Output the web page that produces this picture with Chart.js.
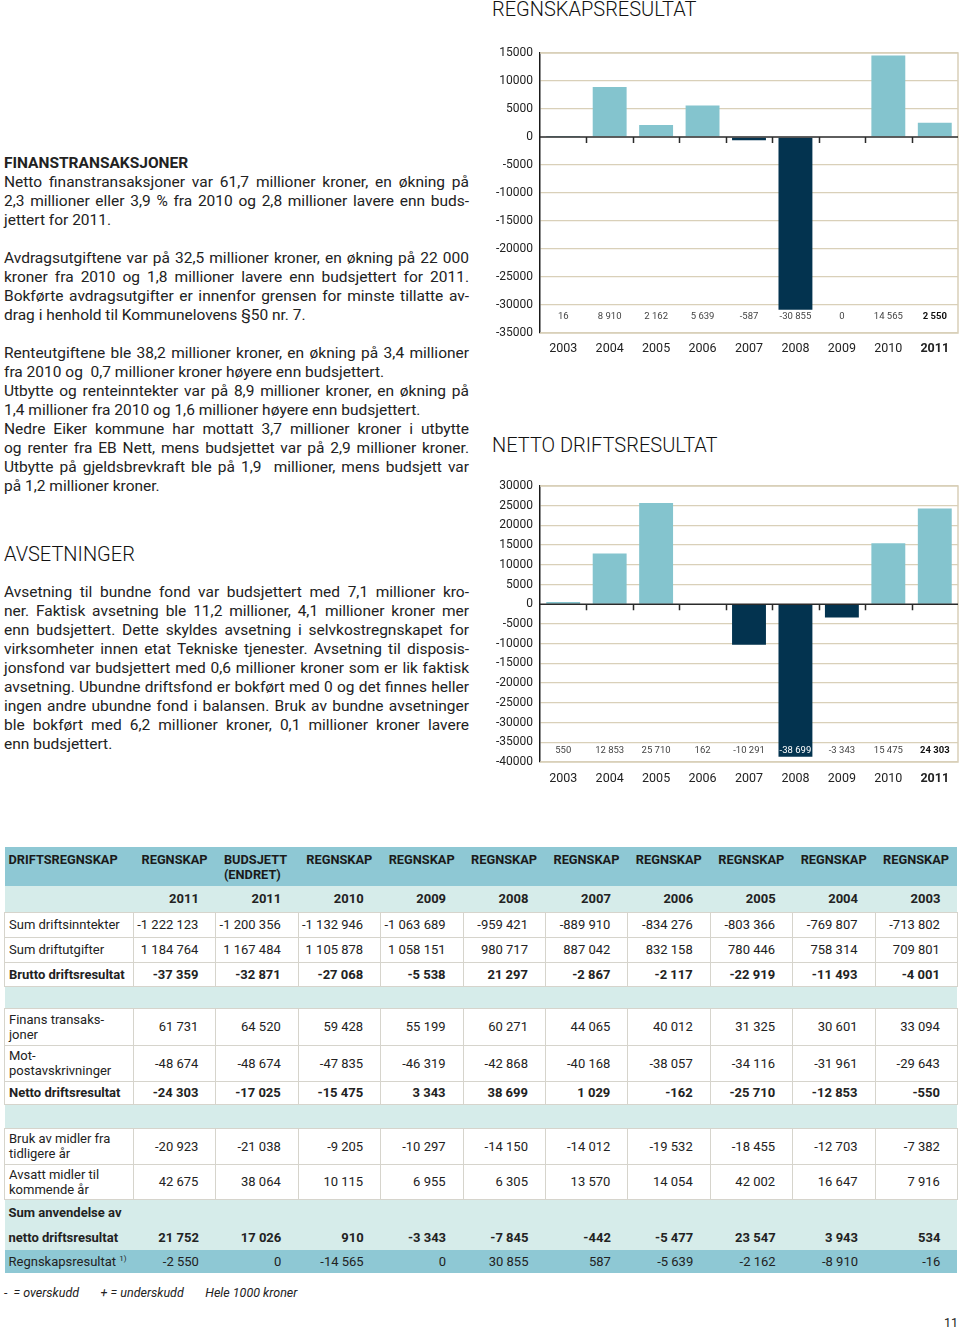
<!DOCTYPE html>
<html>
<head>
<meta charset="utf-8">
<script src="https://cdn.jsdelivr.net/npm/chart.js@4"></script>
<style>
    body { margin: 0; width: 960px; height: 1330px; background: #fff; position: relative; font-family: Roboto, sans-serif; color: #222; }
    .title { position: absolute; font-size: 20px; font-weight: 300; letter-spacing: 0; line-height: 20px; color: #111; white-space: nowrap; }
    .text { position: absolute; left: 4px; width: 465px; font-size: 15.5px; line-height: 19px; }
    .text div { white-space: nowrap; height: 19px; }
    .text .j { text-align: justify; text-align-last: justify; }
    .text h4 { margin: 0; font-size: 15.5px; font-weight: bold; height: 19px; line-height: 19px; }
    canvas { position: absolute; }
    table { position: absolute; left: 4px; top: 847px; width: 953px; border-collapse: collapse; table-layout: fixed; font-size: 13px; color: #222; }
    td { padding: 0 17px 0 0; text-align: right; border: 1px solid #d6d4cc; line-height: 15px; white-space: nowrap; }
    td.lab { text-align: left; padding: 0 0 0 4px; }
    tr.head td { background: #8ec8d4; border: none; vertical-align: top; padding: 5px 0 0 8px; text-align: left; font-weight: bold; font-size: 12.8px; color: #1a1a1a; }
    tr.head td.lab { padding-left: 4px; }
    tr.years td { background: #d6ecea; border: none; font-weight: bold; }
    tr.gap td { background: #d6ecea; border: none; }
    tr.bold td { font-weight: bold; }
    tr.sum td { background: #d6ecea; border: none; font-weight: bold; vertical-align: bottom; padding-bottom: 0; line-height: 25px; }
    tr.res td { background: #8ec8d4; border: none; }
    .foot { position: absolute; top: 1285px; left: 4px; font-size: 12.5px; font-style: italic; white-space: pre; }
    .page { position: absolute; top: 1315px; left: 944px; font-size: 12.5px; }
</style>
</head>
<body>

<div class="title" style="left:492px; top:-1px;">REGNSKAPSRESULTAT</div>
<div class="title" style="left:492px; top:435px;">NETTO DRIFTSRESULTAT</div>
<div class="title" style="left:4px; top:544px;">AVSETNINGER</div>

<div class="text" style="top:154px;">
    <h4>FINANSTRANSAKSJONER</h4>
    <div class="j">Netto finanstransaksjoner var 61,7 millioner kroner, en økning på</div>
    <div class="j">2,3 millioner eller 3,9 % fra 2010 og 2,8 millioner lavere enn buds-</div>
    <div>jettert for 2011.</div>
    <div></div>
    <div class="j">Avdragsutgiftene var på 32,5 millioner kroner, en økning på 22 000</div>
    <div class="j">kroner fra 2010 og 1,8 millioner lavere enn budsjettert for 2011.</div>
    <div class="j">Bokførte avdragsutgifter er innenfor grensen for minste tillatte av-</div>
    <div>drag i henhold til Kommunelovens §50 nr. 7.</div>
    <div></div>
    <div class="j">Renteutgiftene ble 38,2 millioner kroner, en økning på 3,4 millioner</div>
    <div>fra 2010 og&nbsp; 0,7 millioner kroner høyere enn budsjettert.</div>
    <div class="j">Utbytte og renteinntekter var på 8,9 millioner kroner, en økning på</div>
    <div>1,4 millioner fra 2010 og 1,6 millioner høyere enn budsjettert.</div>
    <div class="j">Nedre Eiker kommune har mottatt 3,7 millioner kroner i utbytte</div>
    <div class="j">og renter fra EB Nett, mens budsjettet var på 2,9 millioner kroner.</div>
    <div class="j">Utbytte på gjeldsbrevkraft ble på 1,9&nbsp; millioner, mens budsjett var</div>
    <div>på 1,2 millioner kroner.</div>
</div>

<div class="text" style="top:583px;">
    <div class="j">Avsetning til bundne fond var budsjettert med 7,1 millioner kro-</div>
    <div class="j">ner. Faktisk avsetning ble 11,2 millioner, 4,1 millioner kroner mer</div>
    <div class="j">enn budsjettert. Dette skyldes avsetning i selvkostregnskapet for</div>
    <div class="j">virksomheter innen etat Tekniske tjenester. Avsetning til disposis-</div>
    <div class="j">jonsfond var budsjettert med 0,6 millioner kroner som er lik faktisk</div>
    <div class="j">avsetning. Ubundne driftsfond er bokført med 0 og det finnes heller</div>
    <div class="j">ingen andre ubundne fond i balansen. Bruk av bundne avsetninger</div>
    <div class="j">ble bokført med 6,2 millioner kroner, 0,1 millioner kroner lavere</div>
    <div>enn budsjettert.</div>
</div>

<canvas id="regnskapChart" width="480" height="370" style="left:480px; top:0px;"></canvas>
<canvas id="nettoChart" width="480" height="340" style="left:480px; top:460px;"></canvas>

<table id="drift"></table>

<div class="foot">-  = overskudd       + = underskudd       Hele 1000 kroner</div>
<div class="page">11</div>

<script>
// chart data
const years = ['2003', '2004', '2005', '2006', '2007', '2008', '2009', '2010', '2011'];
const regnskapsresultat = [16, 8910, 2162, 5639, -587, -30855, 0, 14565, 2550];
const nettoDriftsresultat = [550, 12853, 25710, 162, -10291, -38699, -3343, 15475, 24303];
const regnskapTicks = [-35000, 15000, 5000];   // min, max, step
const nettoTicks = [-40000, 30000, 5000];

// table data
const tableHeads = ['REGNSKAP', 'BUDSJETT<br>(ENDRET)', 'REGNSKAP', 'REGNSKAP', 'REGNSKAP', 'REGNSKAP', 'REGNSKAP', 'REGNSKAP', 'REGNSKAP', 'REGNSKAP'];
const tableYears = ['2011', '2011', '2010', '2009', '2008', '2007', '2006', '2005', '2004', '2003'];
const sumDriftsinntekter = [-1222123, -1200356, -1132946, -1063689, -959421, -889910, -834276, -803366, -769807, -713802];
const sumDriftutgifter = [1184764, 1167484, 1105878, 1058151, 980717, 887042, 832158, 780446, 758314, 709801];
const bruttoDriftsresultat = [-37359, -32871, -27068, -5538, 21297, -2867, -2117, -22919, -11493, -4001];
const finansTransaksjoner = [61731, 64520, 59428, 55199, 60271, 44065, 40012, 31325, 30601, 33094];
const motpostAvskrivninger = [-48674, -48674, -47835, -46319, -42868, -40168, -38057, -34116, -31961, -29643];
const nettoDriftTabell = [-24303, -17025, -15475, 3343, 38699, 1029, -162, -25710, -12853, -550];
const brukAvMidler = [-20923, -21038, -9205, -10297, -14150, -14012, -19532, -18455, -12703, -7382];
const avsattMidler = [42675, 38064, 10115, 6955, 6305, 13570, 14054, 42002, 16647, 7916];
const sumAnvendelse = [21752, 17026, 910, -3343, -7845, -442, -5477, 23547, 3943, 534];
const regnskapsresultatTabell = [-2550, 0, -14565, 0, 30855, 587, -5639, -2162, -8910, -16];

const lightBlue = '#84c4ce';
const darkBlue = '#03334f';
const gridTan = '#d9d0b9';

Chart.defaults.font.family = 'Roboto, sans-serif';

function fmt(n) {
    return (n < 0 ? '-' : '') + String(Math.abs(n)).replace(/\B(?=(\d{3})+(?!\d))/g, ' ');
}

// frame, zero line with small ticks and the value row at the bottom
const barExtras = {
    id: 'barExtras',
    beforeDatasetsDraw(chart) {
        const { ctx, chartArea: a } = chart;
        ctx.save();
        ctx.strokeStyle = gridTan;
        ctx.lineWidth = 1.5;
        ctx.beginPath();
        ctx.moveTo(a.left, a.top);
        ctx.lineTo(a.right, a.top);
        ctx.lineTo(a.right, a.bottom);
        ctx.lineTo(a.left, a.bottom);
        ctx.stroke();
        ctx.restore();
    },
    afterDatasetsDraw(chart) {
        const { ctx, chartArea: a, scales: { x, y } } = chart;
        const data = chart.data.datasets[0].data;
        const y0 = y.getPixelForValue(0);
        ctx.save();
        ctx.strokeStyle = '#2a2a2a';
        ctx.lineWidth = 1.5;
        ctx.beginPath();
        ctx.moveTo(a.left, y0);
        ctx.lineTo(a.right, y0);
        for (let i = 1; i < data.length; i++) {
            const bx = Math.round((x.getPixelForValue(i - 1) + x.getPixelForValue(i)) / 2) + 0.5;
            ctx.moveTo(bx, y0);
            ctx.lineTo(bx, y0 + 6);
        }
        ctx.stroke();

        const step = chart.options.scales.y.ticks.stepSize;
        const ly = y.getPixelForValue(y.min + step * 0.6);
        ctx.textAlign = 'center';
        ctx.textBaseline = 'middle';
        data.forEach((v, i) => {
            const last = i === data.length - 1;
            ctx.font = (last ? 'bold ' : '') + '9.5px Roboto, sans-serif';
            ctx.fillStyle = (v < 0 && y.getPixelForValue(v) > ly + 4) ? '#fff' : (last ? '#111' : '#444');
            ctx.fillText(fmt(v), x.getPixelForValue(i), ly);
        });
        ctx.restore();
    }
};

function barChart(id, values, ticks, topPad, axisHeight, labelPad) {
    const ctx = document.getElementById(id).getContext('2d');
    return new Chart(ctx, {
        type: 'bar',
        data: {
            labels: years,
            datasets: [{
                data: values,
                backgroundColor: c => c.raw >= 0 ? lightBlue : darkBlue,
                categoryPercentage: 1,
                barPercentage: 0.73
            }]
        },
        options: {
            responsive: false,
            animation: false,
            layout: { padding: { top: topPad, right: 2, left: 0, bottom: 0 } },
            scales: {
                x: {
                    grid: { display: false },
                    border: { display: false },
                    ticks: {
                        padding: labelPad,
                        color: '#222',
                        font: c => ({ size: 12.5, weight: c.index === years.length - 1 ? 'bold' : 'normal' })
                    },
                    afterFit: s => { s.height = axisHeight; }
                },
                y: {
                    min: ticks[0],
                    max: ticks[1],
                    ticks: {
                        stepSize: ticks[2],
                        padding: 7,
                        color: '#222',
                        font: { size: 12 },
                        callback: v => v
                    },
                    grid: {
                        color: c => c.tick && c.tick.value === 0 ? 'rgba(0,0,0,0)' : gridTan,
                        lineWidth: 1.3,
                        drawTicks: false
                    },
                    border: { color: '#1a1a1a', width: 1.5 },
                    afterFit: s => { s.width = 60; }
                }
            },
            plugins: {
                legend: { display: false },
                tooltip: { enabled: false }
            }
        },
        plugins: [barExtras]
    });
}

barChart('regnskapChart', regnskapsresultat, regnskapTicks, 53, 37, 0);
barChart('nettoChart', nettoDriftsresultat, nettoTicks, 26, 38, 1);

// table
const tableRows = [
    { cls: 'head', label: 'DRIFTSREGNSKAP', cells: tableHeads, h: 39 },
    { cls: 'years', label: '', cells: tableYears, h: 26 },
    { label: 'Sum driftsinntekter', values: sumDriftsinntekter, h: 25 },
    { label: 'Sum driftutgifter', values: sumDriftutgifter, h: 25 },
    { cls: 'bold', label: 'Brutto driftsresultat', values: bruttoDriftsresultat, h: 24 },
    { cls: 'gap', label: '', cells: Array(10).fill(''), h: 22 },
    { label: 'Finans transaks-<br>joner', values: finansTransaksjoner, h: 37 },
    { label: 'Mot-<br>postavskrivninger', values: motpostAvskrivninger, h: 36 },
    { cls: 'bold', label: 'Netto driftsresultat', values: nettoDriftTabell, h: 23 },
    { cls: 'gap', label: '', cells: Array(10).fill(''), h: 24 },
    { label: 'Bruk av midler fra<br>tidligere år', values: brukAvMidler, h: 36 },
    { label: 'Avsatt midler til<br>kommende år', values: avsattMidler, h: 35 },
    { cls: 'sum', label: 'Sum anvendelse av<br>netto driftsresultat', values: sumAnvendelse, h: 51 },
    { cls: 'res', label: 'Regnskapsresultat <sup style="font-size:8px; line-height:0">1)</sup>', values: regnskapsresultatTabell, h: 23 }
];

let html = '<colgroup><col style="width:129px">' + '<col style="width:82.4px">'.repeat(10) + '</colgroup>';
tableRows.forEach(r => {
    const cells = r.cells || r.values.map(fmt);
    html += '<tr class="' + (r.cls || '') + '" style="height:' + r.h + 'px">';
    html += '<td class="lab">' + r.label + '</td>';
    cells.forEach(c => { html += '<td>' + c + '</td>'; });
    html += '</tr>';
});
document.getElementById('drift').innerHTML = html;
</script>
</body>
</html>
